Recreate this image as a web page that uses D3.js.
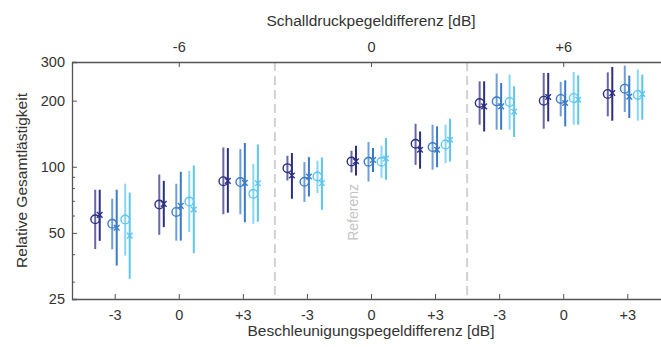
<!DOCTYPE html>
<html>
<head>
<meta charset="utf-8">
<style type="text/css">
	body{ margin:0; background:#fff; }
	svg{ display:block; font-family:"Liberation Sans", Arial, Helvetica, sans-serif; }
</style>
<script src="https://cdn.jsdelivr.net/npm/d3@7"></script>
</head>
<body>
<svg id="svg" width="661" height="347"></svg>
<script type="text/javascript">

	// bottom / top tick labels
	var bottomLabels = ["-3","0","+3","-3","0","+3","-3","0","+3"];
	var topLabels = ["-6","0","+6"];
	var topTickPos = [2,5,8];
	var separators = [3.5,6.5];

	// [mean, lower, upper] for each of the 9 groups
	var navyCircle = [[57.7,42.2,78.6],[67.3,49,92.2],[86,60.8,122.5],[98.6,86.6,112.2],[105.7,94.2,118.3],[127.3,102,157],[195,155.5,245],[200,149,267.5],[214.6,169.6,269.2]];
	var navyCross = [[60.4,46,78.6],[67.8,53.1,86.3],[86.3,61.8,121.7],[91.3,71.5,115.5],[106,91.3,124.7],[119.6,98,144.8],[188.4,144.8,245],[208,160.9,267.5],[216.8,162.1,284.9]];
	var blueCircle = [[55,42.1,71.5],[62.3,46.1,83.7],[85.2,60.8,120.4],[85.4,69.2,105],[105.4,85.7,129.6],[123,97,155.5],[198.6,147.5,265.6],[203.6,169.6,243.4],[226.9,177.6,288.8]];
	var blueCross = [[52.8,35.5,78.6],[66.4,46.1,94.9],[84.5,55.9,128.3],[90.3,73.2,110.7],[107.3,94.6,121.7],[119.6,99.5,152.8],[188.4,147.5,240.8],[195.2,152.8,247.6],[208.6,166.8,260.1]];
	var lightCircle = [[57.5,39.4,83.7],[69.5,50.4,95.8],[75.3,55,103.2],[90.3,75.9,106.5],[105.4,89.1,124.7],[126.4,104,155.5],[197.3,147.5,262.8],[205.8,155.5,270.3],[212.4,162.1,277]];
	var lightCross = [[48.6,30.9,76.3],[63.9,40.4,101.4],[84.2,56.2,126.4],[84.3,63.7,110.3],[109.1,87.2,135.2],[132.8,105.7,165.6],[178.2,136.6,232.5],[202.1,155.5,260.9],[214.6,163.8,262.8]];

	var series = [
		{data:navyCircle, kind:"o", color:"#2d2f80", off:-19.5},
		{data:navyCross, kind:"x", color:"#2d2f80", off:-15},
		{data:blueCircle, kind:"o", color:"#3a7bc8", off:-2.5},
		{data:blueCross, kind:"x", color:"#3a7bc8", off:2},
		{data:lightCircle, kind:"o", color:"#5cc5f0", off:10.5},
		{data:lightCross, kind:"x", color:"#5cc5f0", off:15}
	];

	var L = 72, R = 670, T = 62, B = 299;
	var svg = d3.select("#svg");

	var x = d3.scaleLinear().domain([1/3, 29/3]).range([L, R]);
	var y = d3.scaleLog().domain([25,300]).range([B, T]);

	//separators
	svg.append("g").selectAll("line").data(separators).enter().append("line")
		.attr("x1", function(d){ return x(d); }).attr("x2", function(d){ return x(d); })
		.attr("y1", T).attr("y2", B)
		.style("stroke","#d2d2d2").style("stroke-width",2).style("stroke-dasharray","9,5");

	svg.append("text")
		.attr("transform","translate("+(x(5)-13)+","+y(62)+") rotate(-90)")
		.attr("text-anchor","middle")
		.style("font-size","14px").style("fill","#c4c4c4")
		.text("Referenz");

	//axes
	var axisColor = "#555";
	svg.append("g").attr("transform","translate("+L+",0)")
		.call(d3.axisLeft(y).tickValues([25,50,100,200,300]).tickFormat(d3.format("d")).tickSize(-5).tickPadding(7));
	svg.append("g").attr("transform","translate("+L+",0)")
		.call(d3.axisLeft(y).tickValues([30,40,60,70,80,90]).tickFormat("").tickSize(-3))
		.select(".domain").remove();

	svg.append("g").attr("transform","translate(0,"+B+")")
		.call(d3.axisBottom(x).tickValues(d3.range(1,10)).tickFormat(function(d){ return bottomLabels[d-1]; }).tickSize(-5).tickPadding(11).tickSizeOuter(0));

	svg.append("g").attr("transform","translate(0,"+T+")")
		.call(d3.axisTop(x).tickValues(topTickPos).tickFormat(function(d,i){ return topLabels[i]; }).tickSize(-5).tickPadding(10).tickSizeOuter(0));

	svg.selectAll(".domain").style("stroke",axisColor).style("stroke-width",1.3);
	svg.selectAll(".tick line").style("stroke",axisColor).style("stroke-width",1);
	svg.selectAll(".tick text").style("font-size","14.5px").style("fill","#333");

	//titles
	svg.append("text").attr("x",x(5)).attr("y",26).attr("text-anchor","middle")
		.style("font-size","15.5px").style("fill","#333").text("Schalldruckpegeldifferenz [dB]");
	svg.append("text").attr("x",x(5)).attr("y",336).attr("text-anchor","middle")
		.style("font-size","15.5px").style("fill","#333").text("Beschleunigungspegeldifferenz [dB]");
	svg.append("text").attr("transform","translate(27,"+((T+B)/2)+") rotate(-90)").attr("text-anchor","middle")
		.style("font-size","15.5px").style("fill","#333").text("Relative Gesamtlästigkeit");

	//error bars
	var plot = svg.append("g");
	series.forEach(function(s){
		var g = plot.append("g");
		g.selectAll("line").data(s.data).enter().append("line")
			.attr("x1", function(d,i){ return x(i+1)+s.off; })
			.attr("x2", function(d,i){ return x(i+1)+s.off; })
			.attr("y1", function(d){ return y(d[1]); })
			.attr("y2", function(d){ return y(d[2]); })
			.style("stroke", s.color).style("stroke-width",2)
			.style("opacity", s.kind=="o" ? 0.72 : 1);
	});

	//markers
	series.forEach(function(s){
		var g = plot.append("g");
		if(s.kind=="o"){
			g.selectAll("circle").data(s.data).enter().append("circle")
				.attr("cx", function(d,i){ return x(i+1)+s.off; })
				.attr("cy", function(d){ return y(d[0]); })
				.attr("r", 4.3)
				.style("fill","none").style("stroke",s.color).style("stroke-width",1.4);
		}else{
			g.selectAll("path").data(s.data).enter().append("path")
				.attr("d", function(d,i){
					var cx = x(i+1)+s.off, cy = y(d[0]), k = 2.8;
					return "M"+(cx-k)+","+(cy-k)+"L"+(cx+k)+","+(cy+k)+"M"+(cx-k)+","+(cy+k)+"L"+(cx+k)+","+(cy-k);
				})
				.style("fill","none").style("stroke",s.color).style("stroke-width",1.4);
		}
	});

</script>
</body>
</html>
